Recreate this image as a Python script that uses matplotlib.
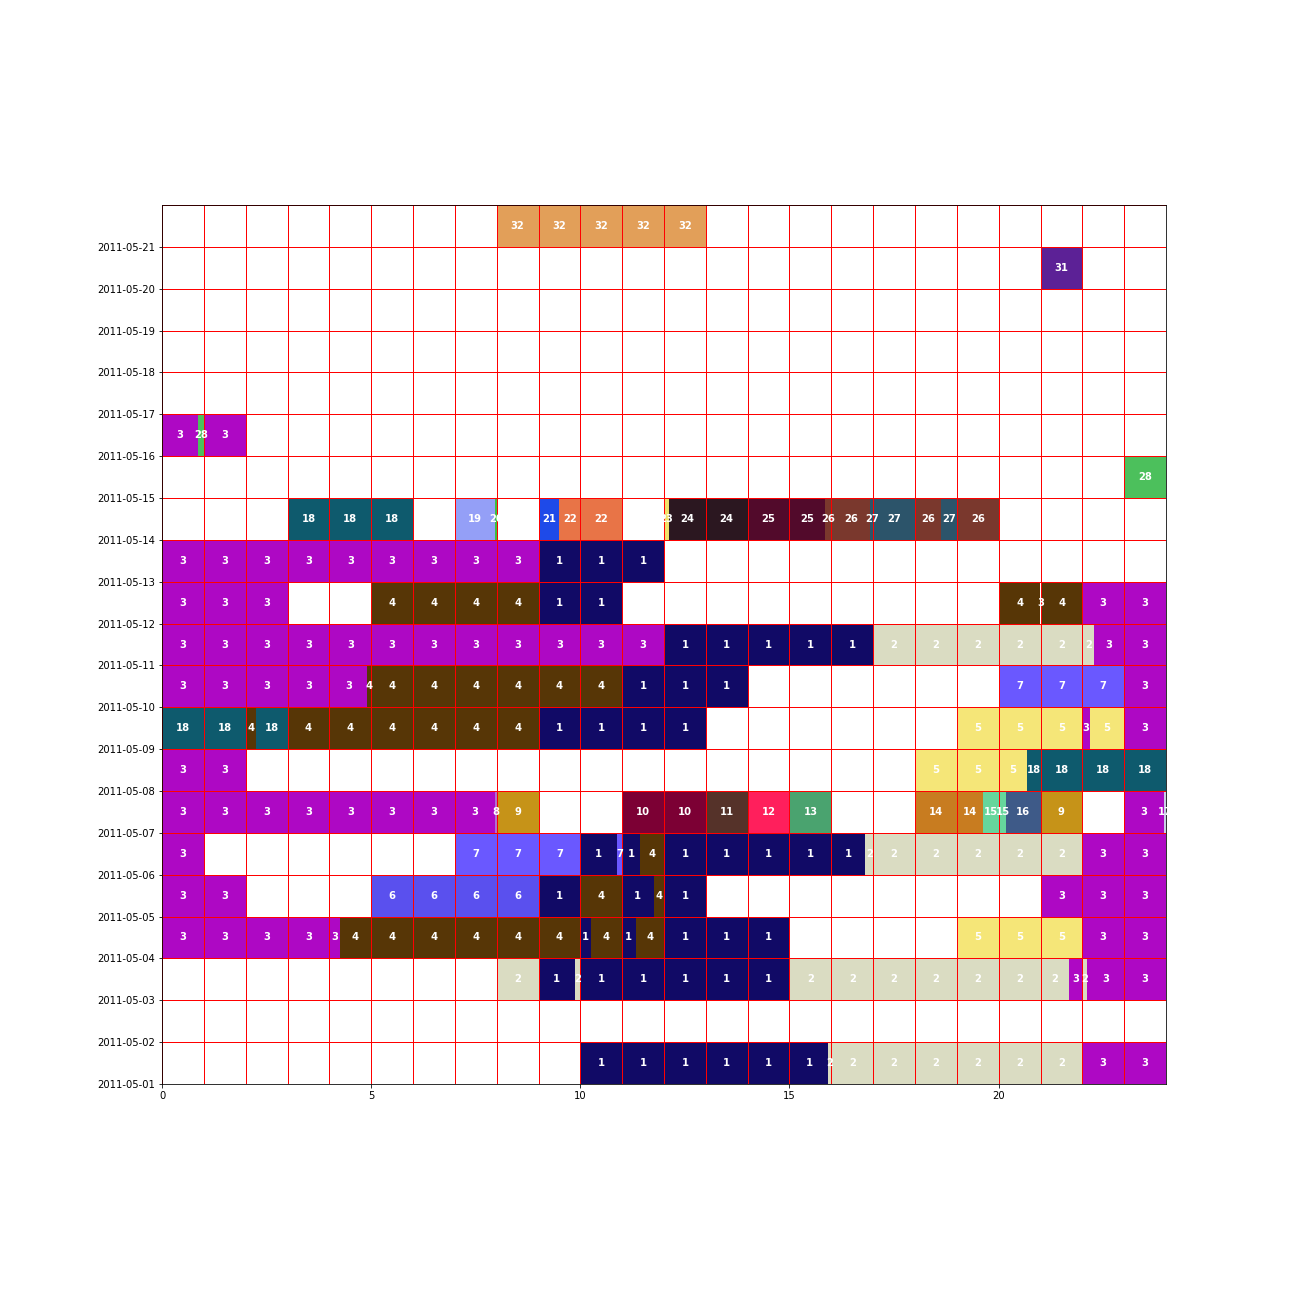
import datetime as dt
import matplotlib
matplotlib.use("Agg")
import matplotlib.pyplot as plt
import matplotlib.dates as mdates
from matplotlib.patches import Rectangle

# segments per day: (start hour, end hour, activity id)
day01 = [(10, 15.93, 1), (15.93, 22, 2), (22, 24, 3)]
day02 = []
day03 = [(8, 9, 2), (9, 9.87, 1), (9.87, 10, 2), (10, 15, 1), (15, 21.68, 2),
         (21.68, 22, 3), (22, 22.11, 2), (22.11, 24, 3)]
day04 = [(0, 4.25, 3), (4.25, 10, 4), (10, 10.25, 1), (10.25, 11, 4), (11, 11.32, 1),
         (11.32, 12, 4), (12, 15, 1), (19, 22, 5), (22, 24, 3)]
day05 = [(0, 2, 3), (5, 9, 6), (9, 10, 1), (10, 11, 4), (11, 11.75, 1), (11.75, 12, 4),
         (12, 13, 1), (21, 24, 3)]
day06 = [(0, 1, 3), (7, 10, 7), (10, 10.87, 1), (10.87, 11, 7), (11, 11.42, 1),
         (11.42, 12, 4), (12, 16.81, 1), (16.81, 22, 2), (22, 24, 3)]
day07 = [(0, 7.95, 3), (7.95, 8, 8), (8, 9, 9), (11, 13, 10), (13, 14, 11), (14, 15, 12),
         (15, 16, 13), (18, 19.63, 14), (19.63, 20.18, 15), (20.18, 21, 16), (21, 22, 9),
         (23, 23.95, 3), (23.95, 24, 17)]
day08 = [(0, 2, 3), (18, 20.68, 5), (20.68, 24, 18)]
day09 = [(0, 2, 18), (2, 2.24, 4), (2.24, 3, 18), (3, 9, 4), (9, 13, 1), (19, 22, 5),
         (22, 22.18, 3), (22.18, 23, 5), (23, 24, 3)]
day10 = [(0, 4.91, 3), (4.91, 11, 4), (11, 14, 1), (20, 23, 7), (23, 24, 3)]
day11 = [(0, 12, 3), (12, 17, 1), (17, 22.28, 2), (22.28, 24, 3)]
day12 = [(0, 3, 3), (5, 9, 4), (9, 11, 1), (20, 21, 4), (21, 21.03, 3), (21.03, 22, 4),
         (22, 24, 3)]
day13 = [(0, 9, 3), (9, 12, 1)]
day14 = [(3, 6, 18), (7, 7.97, 19), (7.97, 8, 20), (9, 9.5, 21), (9.5, 11, 22),
         (12, 12.12, 23), (12.12, 14, 24), (14, 15.85, 25), (15.85, 16.93, 26),
         (16.93, 18, 27), (18, 18.62, 26), (18.62, 19, 27), (19, 20, 26)]
day15 = [(23, 24, 28)]
day16 = [(0, 0.85, 3), (0.85, 1, 28), (1, 2, 3)]
day17 = []
day18 = []
day19 = []
day20 = [(21, 22, 31)]
day21 = [(8, 13, 32)]

days = [day01, day02, day03, day04, day05, day06, day07, day08, day09, day10, day11,
        day12, day13, day14, day15, day16, day17, day18, day19, day20, day21]
first_day = dt.date(2011, 5, 1)

palette = {
    1: "#110a66", 2: "#dadcc2", 3: "#ae08c4", 4: "#573606", 5: "#f5e678",
    6: "#5a50ee", 7: "#6a58ff", 8: "#b070d0", 9: "#c69318", 10: "#7c0034",
    11: "#553229", 12: "#ff1f5c", 13: "#4aa36f", 14: "#c87c20", 15: "#66d69c",
    16: "#3e5a88", 17: "#c9cde6", 18: "#0e5a6d", 19: "#949ff7", 20: "#3cc040",
    21: "#1e4ae9", 22: "#e87447", 23: "#f0e26a", 24: "#2b1720", 25: "#520a2b",
    26: "#7a382d", 27: "#2c546a", 28: "#4cc05c", 31: "#5c2196", 32: "#e29f59",
}

fig = plt.figure(figsize=(18, 18), dpi=72)
ax = fig.add_axes([162 / 1296, 212 / 1296, 1004 / 1296, 879 / 1296])

for i, segs in enumerate(days):
    y0 = mdates.date2num(first_day + dt.timedelta(days=i))
    for start, end, act in segs:
        ax.add_patch(Rectangle((start, y0), end - start, 1, facecolor=palette[act],
                               linewidth=0, zorder=1))
        # label every piece of the segment inside each hour
        h = start
        while h < end - 1e-9:
            nxt = min(end, int(h) + 1)
            ax.text((h + nxt) / 2, y0 + 0.5, str(act), color="white", fontsize=10,
                    fontweight="bold", ha="center", va="center", zorder=3)
            h = nxt

ymin = mdates.date2num(first_day)
ymax = mdates.date2num(first_day + dt.timedelta(days=len(days)))
for h in range(25):
    ax.axvline(h, color="red", linewidth=1, zorder=2)
for i in range(len(days) + 1):
    ax.axhline(ymin + i, color="red", linewidth=1, zorder=2)

ax.set_xlim(0, 24)
ax.set_ylim(ymin, ymax)
ax.set_yticks([ymin + i for i in range(len(days))])
ax.yaxis.set_major_formatter(mdates.DateFormatter("%Y-%m-%d"))

fig.savefig("out.png", dpi=72)
